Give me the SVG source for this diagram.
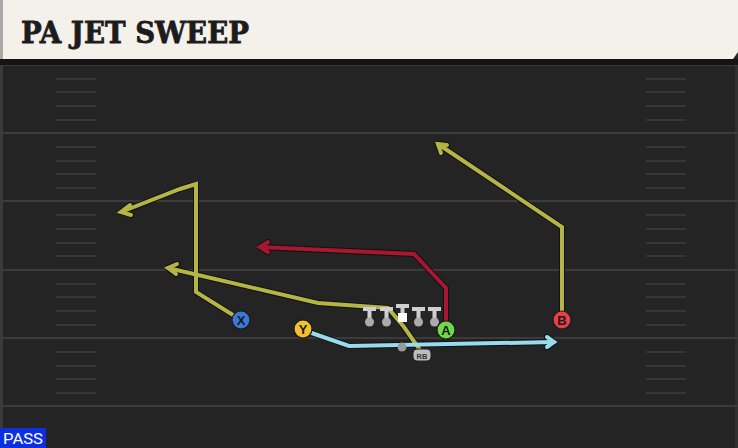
<svg xmlns="http://www.w3.org/2000/svg" width="738" height="448" viewBox="0 0 738 448">
<defs>
<style>
.yard{stroke:#3b3b3b;stroke-width:2}
.hash{stroke:#363636;stroke-width:2}
.out{fill:none;stroke:#111;stroke-width:6;stroke-linejoin:round;stroke-linecap:round}
.rt{fill:none;stroke-width:4;stroke-linejoin:miter;stroke-linecap:round}
.olive{stroke:#b4b545}
.red{stroke:#a8172f}
.blue{stroke:#96dbee}
.lbl{font-family:"Liberation Sans",Arial,sans-serif;font-weight:bold;font-size:13px;fill:#1a1a1a;text-anchor:middle}
.ol{fill:#d0d0d0}
.knob{fill:#ababab}
</style>
</defs>
<rect x="0" y="0" width="738" height="448" fill="#242424"/>
<rect x="0" y="60" width="3" height="388" fill="#3a3a3a"/>
<rect x="735" y="60" width="3" height="388" fill="#303030"/>
<g id="field">
<line class="yard" x1="0" y1="65" x2="738" y2="65"/>
<line class="yard" x1="0" y1="133" x2="738" y2="133"/>
<line class="yard" x1="0" y1="201" x2="738" y2="201"/>
<line class="yard" x1="0" y1="270" x2="738" y2="270"/>
<line class="yard" x1="0" y1="338" x2="738" y2="338"/>
<line class="yard" x1="0" y1="406" x2="738" y2="406"/>
<g class="hash">
<line x1="56" y1="79" x2="96" y2="79"/><line x1="56" y1="92" x2="96" y2="92"/><line x1="56" y1="106" x2="96" y2="106"/><line x1="56" y1="120" x2="96" y2="120"/>
<line x1="56" y1="147" x2="96" y2="147"/><line x1="56" y1="161" x2="96" y2="161"/><line x1="56" y1="174" x2="96" y2="174"/><line x1="56" y1="188" x2="96" y2="188"/>
<line x1="56" y1="215" x2="96" y2="215"/><line x1="56" y1="229" x2="96" y2="229"/><line x1="56" y1="243" x2="96" y2="243"/><line x1="56" y1="256" x2="96" y2="256"/>
<line x1="56" y1="284" x2="96" y2="284"/><line x1="56" y1="297" x2="96" y2="297"/><line x1="56" y1="311" x2="96" y2="311"/><line x1="56" y1="325" x2="96" y2="325"/>
<line x1="56" y1="352" x2="96" y2="352"/><line x1="56" y1="366" x2="96" y2="366"/><line x1="56" y1="379" x2="96" y2="379"/><line x1="56" y1="393" x2="96" y2="393"/>
<line x1="646" y1="79" x2="686" y2="79"/><line x1="646" y1="92" x2="686" y2="92"/><line x1="646" y1="106" x2="686" y2="106"/><line x1="646" y1="120" x2="686" y2="120"/>
<line x1="646" y1="147" x2="686" y2="147"/><line x1="646" y1="161" x2="686" y2="161"/><line x1="646" y1="174" x2="686" y2="174"/><line x1="646" y1="188" x2="686" y2="188"/>
<line x1="646" y1="215" x2="686" y2="215"/><line x1="646" y1="229" x2="686" y2="229"/><line x1="646" y1="243" x2="686" y2="243"/><line x1="646" y1="256" x2="686" y2="256"/>
<line x1="646" y1="284" x2="686" y2="284"/><line x1="646" y1="297" x2="686" y2="297"/><line x1="646" y1="311" x2="686" y2="311"/><line x1="646" y1="325" x2="686" y2="325"/>
<line x1="646" y1="352" x2="686" y2="352"/><line x1="646" y1="366" x2="686" y2="366"/><line x1="646" y1="379" x2="686" y2="379"/><line x1="646" y1="393" x2="686" y2="393"/>
</g>
</g>
<g id="header">
<rect x="0" y="59" width="738" height="6" fill="#141414"/>
<path d="M0 0 H738 V52 L733 59 H0 Z" fill="#f4f1ea"/>
<rect x="0" y="0" width="3" height="59" fill="#a9a9a9"/>
<text x="21" y="43" font-family="'DejaVu Serif','Liberation Serif',serif" font-weight="bold" font-size="30" fill="#1c1c1c" stroke="#1c1c1c" stroke-width="0.8" textLength="228" lengthAdjust="spacingAndGlyphs">PA JET SWEEP</text>
</g>
<g id="connectors">
<g class="out">
<polyline points="241,320 196,292 196,184 180,189 121,212"/>
<polyline points="130,205 121,212 131,215"/>
<polyline points="420,350 404,327 388,308 318,303 168,268"/>
<polyline points="177,264 168,268 176,274"/>
<polyline points="446,330 446,288 414,254 260,247"/>
<polyline points="268,242 260,247 268,252"/>
<polyline points="562,320 562,227 438,144"/>
<polyline points="441,153 438,144 447,145"/>
<polyline points="303,330 349,346 554,342"/>
<polyline points="547,337 554,342 547,347"/>
</g>
<g class="rt olive">
<polyline points="241,320 196,292 196,184 180,189 121,212"/>
<polyline points="130,205 121,212 131,215"/>
<polyline points="420,350 404,327 388,308 318,303 168,268"/>
<polyline points="177,264 168,268 176,274"/>
<polyline points="562,320 562,227 438,144"/>
<polyline points="441,153 438,144 447,145"/>
</g>
<g class="rt red">
<polyline points="446,330 446,288 414,254 260,247"/>
<polyline points="268,242 260,247 268,252"/>
</g>
<g class="rt blue">
<polyline points="303,330 349,346 554,342"/>
<polyline points="547,337 554,342 547,347"/>
</g>
</g>
<g id="line">
<g id="lt"><rect class="ol" x="363" y="307" width="13" height="4"/><rect class="ol" x="367.5" y="307" width="4" height="12"/><circle class="knob" cx="369.5" cy="322" r="4.5"/></g>
<g id="lg"><rect class="ol" x="380" y="307" width="13" height="4"/><rect class="ol" x="384.5" y="307" width="4" height="12"/><circle class="knob" cx="386.5" cy="322" r="4.5"/></g>
<g id="c"><rect class="ol" x="396" y="304" width="13" height="4"/><rect class="ol" x="400.5" y="304" width="4" height="10"/><rect x="398" y="313" width="9" height="9" fill="#ffffff"/></g>
<g id="rg"><rect class="ol" x="412" y="307" width="13" height="4"/><rect class="ol" x="416.5" y="307" width="4" height="12"/><circle class="knob" cx="418.5" cy="322" r="4.5"/></g>
<g id="rt"><rect class="ol" x="428" y="307" width="13" height="4"/><rect class="ol" x="432.5" y="307" width="4" height="12"/><circle class="knob" cx="434.5" cy="322" r="4.5"/></g>
</g>
<g id="qb"><circle cx="402" cy="347" r="4.5" fill="#9a9a9a"/></g>
<g id="rb"><rect x="413" y="349" width="18" height="12" rx="4" fill="#bdbdbd" stroke="#222" stroke-width="1"/><text x="422" y="358.5" font-family="'Liberation Sans',Arial,sans-serif" font-size="7.5" font-weight="bold" fill="#333" text-anchor="middle">RB</text></g>
<g id="X"><circle cx="241" cy="320" r="9" fill="#3b78d8" stroke="#1b1b1b" stroke-width="1.2"/><text class="lbl" x="241" y="324.5">X</text></g>
<g id="Y"><circle cx="303" cy="329" r="9" fill="#f3c12f" stroke="#1b1b1b" stroke-width="1.2"/><text class="lbl" x="303" y="333.5">Y</text></g>
<g id="A"><circle cx="446" cy="330" r="9" fill="#6fd94a" stroke="#1b1b1b" stroke-width="1.2"/><text class="lbl" x="446" y="334.5">A</text></g>
<g id="B"><circle cx="562" cy="320" r="9" fill="#ea3e48" stroke="#1b1b1b" stroke-width="1.2"/><text class="lbl" x="562" y="324.5">B</text></g>
<g id="pass"><rect x="0" y="428" width="46" height="20" fill="#0c2fe0"/><text x="23" y="444" font-family="Roboto,'Liberation Sans',sans-serif" font-size="15" fill="#ffffff" text-anchor="middle" textLength="40" lengthAdjust="spacingAndGlyphs">PASS</text></g>
</svg>
